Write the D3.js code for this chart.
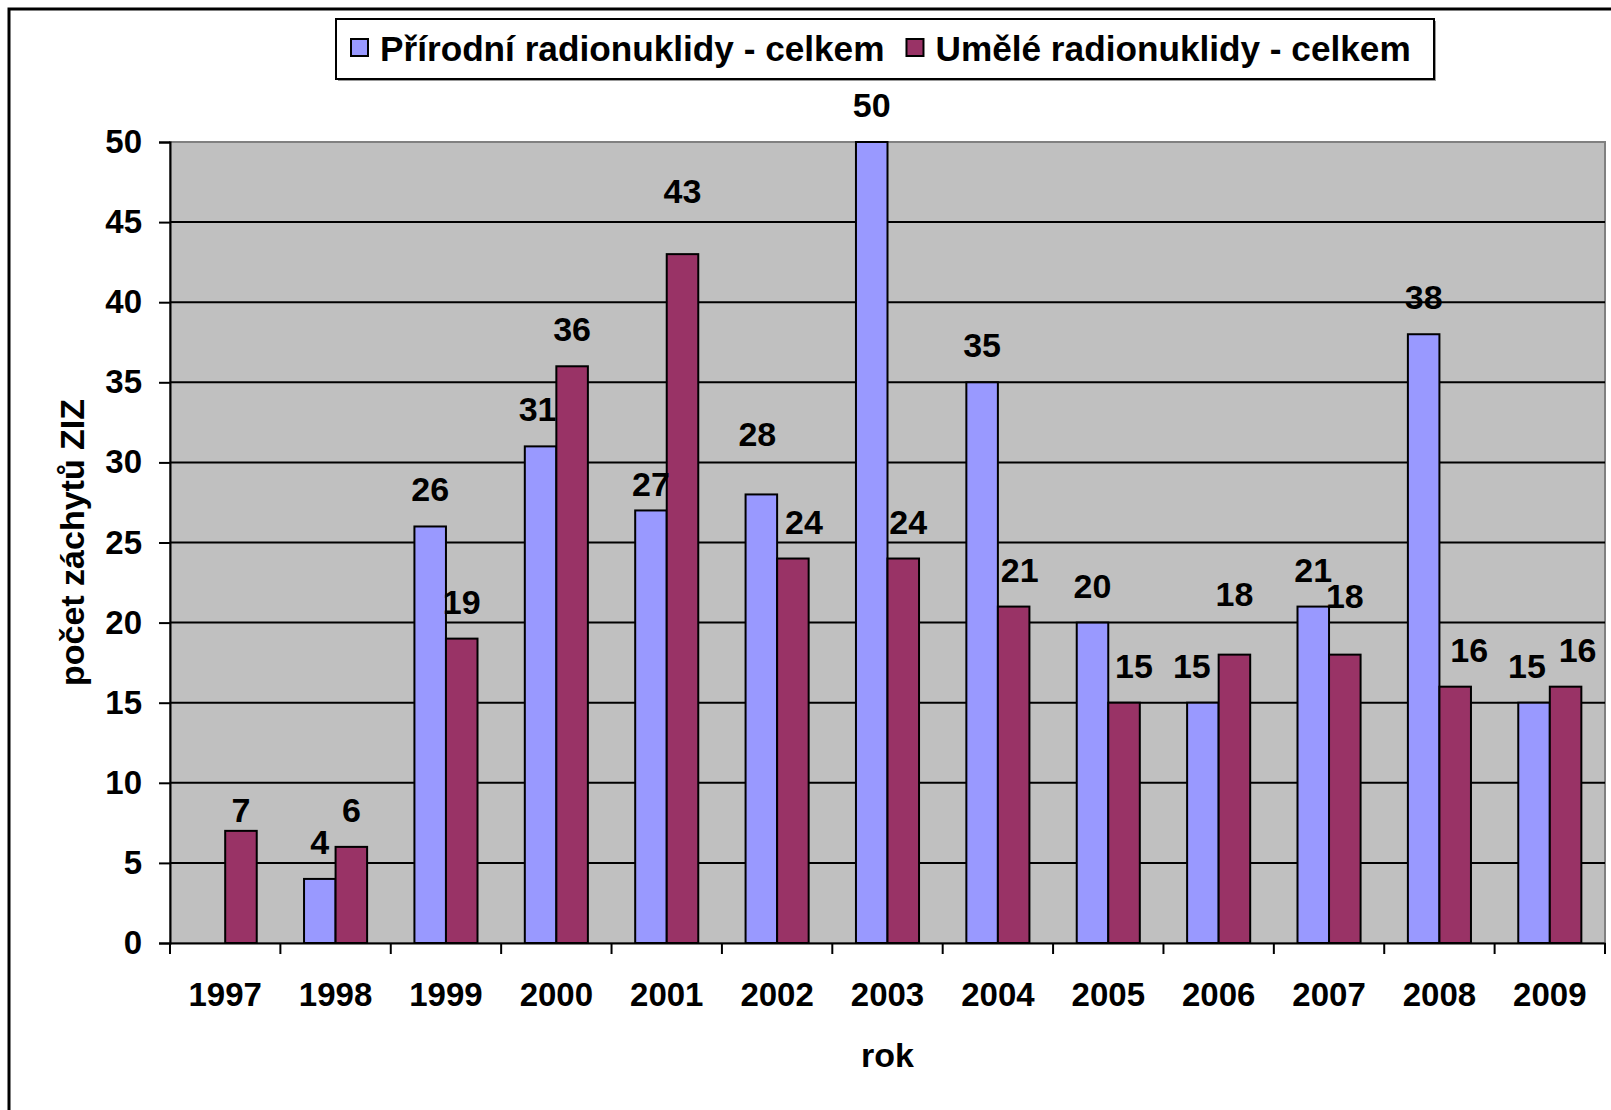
<!DOCTYPE html>
<html>
<head>
<meta charset="utf-8">
<script src="https://cdn.jsdelivr.net/npm/d3@7"></script>
<style>
  html, body { margin: 0; padding: 0; background: #fff; }
  svg { display: block; font-family: "Liberation Sans", Arial, sans-serif; font-weight: bold; }
</style>
</head>
<body>
<div id="chart"></div>
<script>
  // Data
  const years = ['1997', '1998', '1999', '2000', '2001', '2002', '2003', '2004', '2005', '2006', '2007', '2008', '2009'];
  const prirodni = [null, 4, 26, 31, 27, 28, 50, 35, 20, 15, 21, 38, 15];
  const umele = [7, 6, 19, 36, 43, 24, 24, 21, 15, 18, 18, 16, 16];
  const seriesNames = ['Přírodní radionuklidy - celkem', 'Umělé radionuklidy - celkem'];
  const yTicks = [0, 5, 10, 15, 20, 25, 30, 35, 40, 45, 50];

  const colors = ['#9999ff', '#993366'];

  // hand-moved data labels in the original (dx, dy in px)
  const labelNudge = {
    '1-1997': [0, 16], '0-2001': [0, 11], '1-2001': [0, -26],
    '0-2002': [-4, -23], '1-2002': [11, 0], '1-2003': [5, 0],
    '1-2004': [6, 0], '1-2005': [10, 0], '0-2006': [-11, 0],
    '1-2006': [0, -24], '1-2007': [0, -22], '1-2008': [14, 0],
    '0-2009': [-7, 0], '1-2009': [12, 0], '0-2000': [-3, 0]
  };

  const W = 1611, H = 1110;
  const plot = { left: 170, right: 1605, top: 142, bottom: 943 };

  const svg = d3.select('#chart').append('svg')
    .attr('width', W)
    .attr('height', H);

  svg.append('rect').attr('width', W).attr('height', H).attr('fill', '#fff');

  // outer frame (runs off the right and bottom edges)
  svg.append('rect')
    .attr('x', 9).attr('y', 9)
    .attr('width', W + 20).attr('height', H + 20)
    .attr('fill', 'none')
    .attr('stroke', '#000')
    .attr('stroke-width', 3);

  const x = d3.scaleBand()
    .domain(years)
    .range([plot.left, plot.right])
    .paddingInner(0).paddingOuter(0);

  const bw = x.bandwidth();
  const gap = bw * 0.75 / 3.5;
  const x1 = d3.scaleBand()
    .domain([0, 1])
    .range([gap, bw - gap]);

  const y = d3.scaleLinear()
    .domain([0, 50])
    .range([plot.bottom, plot.top]);

  // plot background
  svg.append('rect')
    .attr('x', plot.left).attr('y', plot.top)
    .attr('width', plot.right - plot.left)
    .attr('height', plot.bottom - plot.top)
    .attr('fill', '#c0c0c0')
    .attr('stroke', '#808080')
    .attr('stroke-width', 2);

  // gridlines
  svg.append('g')
    .selectAll('line')
    .data(yTicks.filter(d => d > 0 && d < 50))
    .join('line')
    .attr('x1', plot.left).attr('x2', plot.right)
    .attr('y1', d => y(d)).attr('y2', d => y(d))
    .attr('stroke', '#000')
    .attr('stroke-width', 2);

  // bars
  const rows = years.map((yr, i) => ({ year: yr, vals: [prirodni[i], umele[i]] }));

  const groups = svg.append('g')
    .selectAll('g')
    .data(rows)
    .join('g')
    .attr('transform', d => `translate(${x(d.year)},0)`);

  groups.selectAll('rect')
    .data(d => d.vals.map((v, s) => ({ v, s, year: d.year })).filter(d => d.v != null))
    .join('rect')
    .attr('x', d => x1(d.s))
    .attr('width', x1.bandwidth())
    .attr('y', d => y(d.v))
    .attr('height', d => y(0) - y(d.v))
    .attr('fill', d => colors[d.s])
    .attr('stroke', '#000')
    .attr('stroke-width', 2);

  groups.selectAll('text')
    .data(d => d.vals.map((v, s) => ({ v, s, year: d.year })).filter(d => d.v != null))
    .join('text')
    .attr('x', d => x1(d.s) + x1.bandwidth() / 2 + (labelNudge[d.s + '-' + d.year] || [0, 0])[0])
    .attr('y', d => y(d.v) - 25 + (labelNudge[d.s + '-' + d.year] || [0, 0])[1])
    .attr('text-anchor', 'middle')
    .attr('font-size', 34)
    .attr('fill', '#000')
    .text(d => d.v);

  // y axis
  const yAxis = svg.append('g')
    .attr('transform', `translate(${plot.left},0)`)
    .call(d3.axisLeft(y).tickValues(yTicks).tickSize(11).tickPadding(17));
  yAxis.select('.domain').attr('stroke', '#000').attr('stroke-width', 2);
  yAxis.selectAll('.tick line').attr('stroke', '#000').attr('stroke-width', 2);
  yAxis.selectAll('.tick text')
    .attr('font-size', 33)
    .attr('font-family', '"Liberation Sans", Arial, sans-serif')
    .attr('font-weight', 'bold')
    .attr('fill', '#000');

  // x axis
  const xAxis = svg.append('g')
    .attr('transform', `translate(0,${plot.bottom})`)
    .call(d3.axisBottom(x).tickSize(0).tickPadding(0));
  xAxis.select('.domain').attr('stroke', '#000').attr('stroke-width', 2);
  xAxis.selectAll('.tick text')
    .attr('y', 63)
    .attr('dy', 0)
    .attr('font-size', 33)
    .attr('font-family', '"Liberation Sans", Arial, sans-serif')
    .attr('font-weight', 'bold')
    .attr('fill', '#000');

  // category separators below the axis
  svg.append('g')
    .selectAll('line')
    .data(years.map(d => x(d)).concat([plot.right]))
    .join('line')
    .attr('x1', d => d).attr('x2', d => d)
    .attr('y1', plot.bottom).attr('y2', plot.bottom + 11)
    .attr('stroke', '#000')
    .attr('stroke-width', 2);

  // axis titles
  svg.append('text')
    .attr('transform', `translate(84,${(plot.top + plot.bottom) / 2}) rotate(-90)`)
    .attr('text-anchor', 'middle')
    .attr('font-size', 34)
    .text('počet záchytů ZIZ');

  svg.append('text')
    .attr('x', (plot.left + plot.right) / 2)
    .attr('y', 1067)
    .attr('text-anchor', 'middle')
    .attr('font-size', 34)
    .text('rok');

  // legend
  const legend = svg.append('g');
  legend.append('rect')
    .attr('x', 338).attr('y', 21)
    .attr('width', 1098).attr('height', 60)
    .attr('fill', '#999');
  legend.append('rect')
    .attr('x', 336).attr('y', 19)
    .attr('width', 1098).attr('height', 60)
    .attr('fill', '#fff')
    .attr('stroke', '#000')
    .attr('stroke-width', 2);

  let lx = 351;
  seriesNames.forEach((name, i) => {
    legend.append('rect')
      .attr('x', lx).attr('y', 39)
      .attr('width', 17).attr('height', 17)
      .attr('fill', colors[i])
      .attr('stroke', '#000')
      .attr('stroke-width', 2);
    const t = legend.append('text')
      .attr('x', lx + 29)
      .attr('y', 61)
      .attr('font-size', 35.2)
      .text(name);
    lx += 29 + t.node().getComputedTextLength() + 22;
  });
</script>
</body>
</html>
